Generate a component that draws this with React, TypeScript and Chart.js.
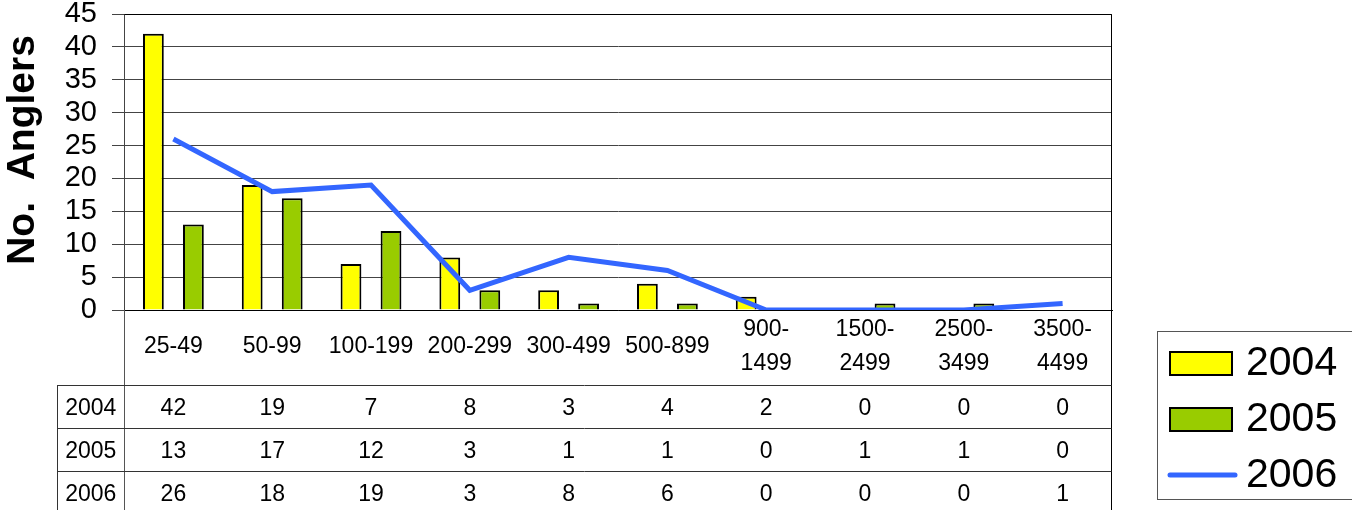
import React, { useEffect, useRef } from 'react';
import { Chart, registerables } from 'chart.js';

Chart.register(...registerables);

const categories: (string | string[])[] = [
  '25-49', '50-99', '100-199', '200-299', '300-499', '500-899',
  ['900-', '1499'], ['1500-', '2499'], ['2500-', '3499'], ['3500-', '4499'],
];
const seriesNames = ['2004', '2005', '2006'];
const values2004 = [42, 19, 7, 8, 3, 4, 2, 0, 0, 0];
const values2005 = [13, 17, 12, 3, 1, 1, 0, 1, 1, 0];
const values2006 = [26, 18, 19, 3, 8, 6, 0, 0, 0, 1];
const yMin = 0;
const yMax = 45;
const yStep = 5;
const yTitle = 'No.  Anglers';

const FONT = '"Liberation Sans", Arial, Helvetica, sans-serif';
const YELLOW = '#FFFF00';
const GREEN = '#99CC00';
const BLUE = '#3366FF';

const overlay = {
  id: 'overlay',
  afterDraw(chart: any) {
    const { ctx, chartArea: a, scales } = chart;
    const xs = scales.x;
    const H = chart.height;
    const L = Math.round(a.left) + 0.5;
    const R = Math.round(a.right) - 0.5;
    const T = Math.round(a.top) + 0.5;
    ctx.save();
    ctx.lineWidth = 1;
    // frame
    ctx.strokeStyle = '#000';
    ctx.beginPath();
    ctx.moveTo(L, T); ctx.lineTo(R, T);
    ctx.moveTo(R, T); ctx.lineTo(R, H);
    ctx.stroke();
    ctx.strokeStyle = '#555';
    ctx.beginPath();
    ctx.moveTo(L, a.bottom); ctx.lineTo(L, H);
    ctx.stroke();

    // data table
    const rowTops = [385, 428, 471];
    const rowH = 43;
    const tableLeft = 57.5;
    ctx.strokeStyle = '#333';
    ctx.beginPath();
    rowTops.forEach((y) => { ctx.moveTo(tableLeft, y + 0.5); ctx.lineTo(R, y + 0.5); });
    ctx.moveTo(tableLeft, rowTops[0]); ctx.lineTo(tableLeft, H);
    ctx.stroke();

    const rows = [values2004, values2005, values2006];
    ctx.fillStyle = '#000';
    ctx.font = `23px ${FONT}`;
    ctx.textAlign = 'center';
    ctx.textBaseline = 'middle';
    rows.forEach((vals, r) => {
      const cy = rowTops[r] + rowH / 2 + 2;
      ctx.fillText(chart.data.datasets[r].label, (tableLeft + a.left) / 2, cy);
      vals.forEach((v, i) => {
        ctx.fillText(String(v), xs.getPixelForValue(i), cy);
      });
    });

    // y-axis title
    ctx.save();
    ctx.translate(34, 150);
    ctx.rotate(-Math.PI / 2);
    ctx.font = `bold 39px ${FONT}`;
    ctx.textAlign = 'center';
    ctx.textBaseline = 'alphabetic';
    ctx.fillText(yTitle, 0, 0);
    ctx.restore();

    // legend
    ctx.strokeStyle = '#555';
    ctx.lineWidth = 1;
    ctx.strokeRect(1157.5, 331.5, 210, 168);
    const ds = chart.data.datasets;
    const baselines = [375, 431, 487];
    ctx.font = `41px ${FONT}`;
    ctx.textAlign = 'left';
    ctx.textBaseline = 'alphabetic';
    ds.forEach((d: any, i: number) => {
      const b = baselines[i];
      if (d.type === 'line') {
        ctx.strokeStyle = d.borderColor;
        ctx.lineWidth = 5;
        ctx.lineCap = 'round';
        ctx.beginPath();
        ctx.moveTo(1170, b - 12);
        ctx.lineTo(1235, b - 12);
        ctx.stroke();
      } else {
        ctx.fillStyle = d.backgroundColor;
        ctx.fillRect(1170, b - 23, 62, 23);
        ctx.strokeStyle = '#000';
        ctx.lineWidth = 2;
        ctx.strokeRect(1170, b - 23, 62, 23);
      }
      ctx.fillStyle = '#000';
      ctx.fillText(d.label, 1246, b);
    });
    ctx.restore();
  },
};

export default function App() {
  const ref = useRef<HTMLCanvasElement | null>(null);
  useEffect(() => {
    document.body.style.margin = '0';
    const canvas = ref.current!;
    const chart = new Chart(canvas, {
      type: 'bar',
      data: {
        labels: categories as any,
        datasets: [
          {
            type: 'bar',
            label: seriesNames[0],
            data: values2004,
            backgroundColor: YELLOW,
            borderColor: '#000',
            borderWidth: 2,
            categoryPercentage: 0.81,
            barPercentage: 0.52,
            order: 1,
          },
          {
            type: 'bar',
            label: seriesNames[1],
            data: values2005,
            backgroundColor: GREEN,
            borderColor: '#000',
            borderWidth: 2,
            categoryPercentage: 0.81,
            barPercentage: 0.52,
            order: 1,
          },
          {
            type: 'line',
            label: seriesNames[2],
            data: values2006,
            borderColor: BLUE,
            backgroundColor: BLUE,
            borderWidth: 5,
            pointRadius: 0,
            tension: 0,
            fill: false,
            order: 0,
          } as any,
        ],
      },
      options: {
        responsive: false,
        maintainAspectRatio: false,
        animation: false,
        devicePixelRatio: 1,
        layout: { padding: { top: 14, right: 240, left: 0, bottom: 0 } },
        plugins: { legend: { display: false }, tooltip: { enabled: false } },
        scales: {
          x: {
            grid: { display: false, drawTicks: false },
            border: { display: true, color: '#000', width: 1 },
            ticks: {
              color: '#000',
              font: { family: FONT, size: 23, lineHeight: 1.45 },
              padding: 20,
              maxRotation: 0,
              autoSkip: false,
              crossAlign: 'center',
            } as any,
            afterFit(scale: any) {
              scale.height = 200;
              scale.paddingLeft = 0;
              scale.paddingRight = 0;
            },
          },
          y: {
            min: yMin,
            max: yMax,
            grid: { color: '#444', lineWidth: 1, drawTicks: true, tickLength: 12 },
            border: { display: true, color: '#444', width: 1 },
            ticks: {
              stepSize: yStep,
              color: '#000',
              font: { family: FONT, size: 29, lineHeight: 1 },
              padding: 15,
            },
            afterFit(scale: any) {
              scale.width = 124;
              scale.paddingTop = 0;
              scale.paddingBottom = 0;
            },
          },
        },
      },
      plugins: [overlay],
    });
    return () => chart.destroy();
  }, []);
  return (
    <div style={{ width: 1352, height: 510, position: 'relative' }}>
      <canvas ref={ref} width={1352} height={510} style={{ display: 'block' }} />
    </div>
  );
}
